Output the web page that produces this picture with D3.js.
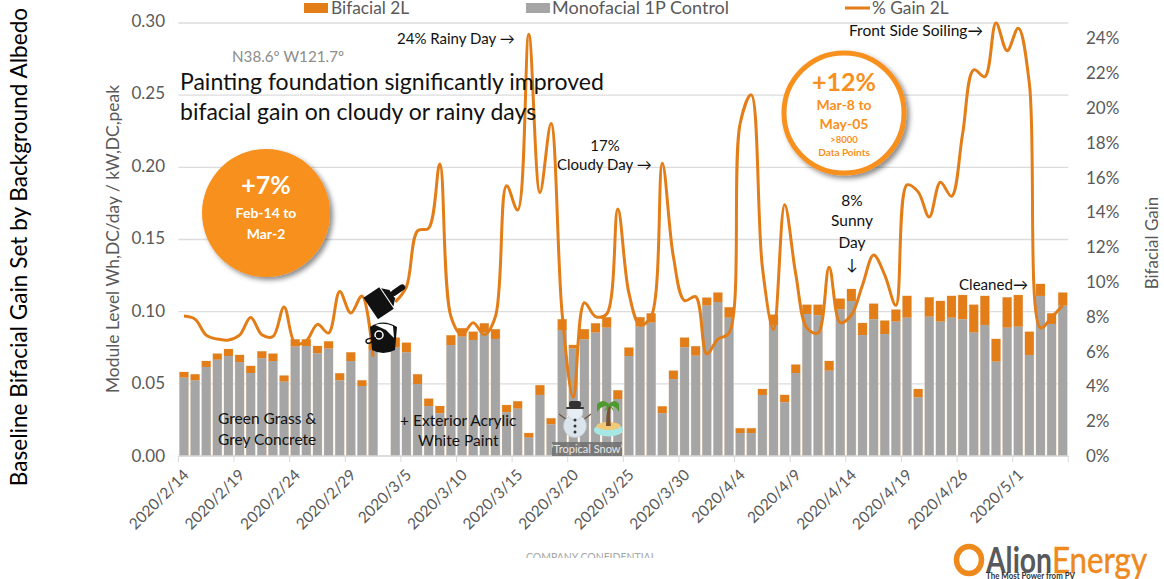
<!DOCTYPE html>
<html lang="en">
<head>
<meta charset="UTF-8">
<title>Baseline Bifacial Gain</title>
<script src="https://d3js.org/d3.v7.min.js"></script>
<style>
    html, body { margin: 0; padding: 0; background: #fff; overflow: hidden; }
    svg { display: block; font-family: Lato, "Open Sans", sans-serif; }
    .axis path { display: none; }
    .axis text { fill: #595959; font-size: 17px; font-family: Lato, sans-serif; }
</style>
</head>
<body>
<div id="chart"></div>
<script>
// one label per day shown, 2 days are missing between 4/19 and 4/26
const dates = [
    "2020/2/14","2020/2/15","2020/2/16","2020/2/17","2020/2/18","2020/2/19","2020/2/20","2020/2/21","2020/2/22","2020/2/23",
    "2020/2/24","2020/2/25","2020/2/26","2020/2/27","2020/2/28","2020/2/29","2020/3/1","2020/3/2","2020/3/3","2020/3/4",
    "2020/3/5","2020/3/6","2020/3/7","2020/3/8","2020/3/9","2020/3/10","2020/3/11","2020/3/12","2020/3/13","2020/3/14",
    "2020/3/15","2020/3/16","2020/3/17","2020/3/18","2020/3/19","2020/3/20","2020/3/21","2020/3/22","2020/3/23","2020/3/24",
    "2020/3/25","2020/3/26","2020/3/27","2020/3/28","2020/3/29","2020/3/30","2020/3/31","2020/4/1","2020/4/2","2020/4/3",
    "2020/4/4","2020/4/5","2020/4/6","2020/4/7","2020/4/8","2020/4/9","2020/4/10","2020/4/11","2020/4/12","2020/4/13",
    "2020/4/14","2020/4/15","2020/4/16","2020/4/17","2020/4/18","2020/4/19","2020/4/22","2020/4/23","2020/4/24","2020/4/25",
    "2020/4/26","2020/4/27","2020/4/28","2020/4/29","2020/4/30","2020/5/1","2020/5/2","2020/5/3","2020/5/4","2020/5/5"
];
const tickDates = ["2020/2/14","2020/2/19","2020/2/24","2020/2/29","2020/3/5","2020/3/10","2020/3/15","2020/3/20",
    "2020/3/25","2020/3/30","2020/4/4","2020/4/9","2020/4/14","2020/4/19","2020/4/26","2020/5/1"];

const bifacial = [
    .0582,.0566,.0658,.0709,.0741,.0700,.0624,.0725,.0709,.0557,
    .0808,.0808,.0762,.0794,.0573,.0718,.0524,.0780,null,.0820,
    .0785,.0566,.0397,.0346,.0836,.0885,.0861,.0919,.0878,.0353,
    .0379,.0159,.0490,.0261,.0947,.0769,.0878,.0919,.0961,.0455,
    .0751,.0961,.0988,.0344,.0591,.0820,.0760,.1097,.1132,.1030,
    .0192,.0192,.0464,.0979,.0423,.0633,.1048,.1048,.0658,.1090,
    .1157,.0921,.1055,.0938,.1014,.1109,.0464,.1099,.1074,.1109,
    .1115,.1048,.1109,.0811,.1099,.1115,.0861,.1192,.0988,.1132
];
const monofacial = [
    .0543,.0524,.0617,.0667,.0693,.0651,.0575,.0677,.0658,.0515,
    .0758,.0762,.0711,.0744,.0524,.0658,.0485,.0734,null,.0751,
    .0718,.0499,.0346,.0296,.0769,.0827,.0804,.0857,.0811,.0303,
    .0328,.0127,.0423,.0219,.0873,.0744,.0808,.0855,.0889,.0395,
    .0693,.0896,.0924,.0296,.0533,.0753,.0695,.1042,.1067,.0958,
    .0159,.0159,.0423,.0908,.0372,.0575,.0984,.0975,.0591,.1016,
    .1074,.0838,.0947,.0845,.0931,.0958,.0406,.0965,.0931,.0958,
    .0947,.0855,.0908,.0654,.0889,.0896,.0700,.1109,.0915,.1042
];
const gain = [
    8.08,7.9,6.98,6.75,6.7,6.98,8.0,7.0,6.9,8.6,
    6.5,6.66,7.6,7.1,9.5,8.25,9.24,5.74,null,8.9,
    9.77,13.0,13.15,16.86,8.05,7.0,7.7,7.0,8.05,15.6,
    14.2,24.35,15.2,19.2,8.2,3.4,8.85,8.05,8.2,14.26,
    9.4,7.56,8.05,16.9,11.5,8.97,9.2,5.9,6.75,7.1,
    19.2,20.85,10.9,7.3,14.5,10.5,7.4,7.1,10.9,7.7,
    8.14,9.87,11.6,10.45,8.7,15.65,15.25,13.8,15.8,15.0,
    18.6,22.3,21.9,25,23.4,24.7,21.5,7.4,8.0,8.7
];
const leftTicks = [0, .05, .10, .15, .20, .25, .30];
const rightTicks = [0,2,4,6,8,10,12,14,16,18,20,22,24];

const orange = "#E27D17", gray = "#A5A5A5", badge = "#F7901E";
const W = 1164, H = 579;
const plot = {left: 178.4, right: 1068.3, top: 23, bottom: 456};

const svg = d3.select("#chart").append("svg").attr("width", W).attr("height", H);

const defs = svg.append("defs");
defs.append("filter").attr("id", "shadow").attr("x", "-20%").attr("y", "-20%").attr("width", "150%").attr("height", "150%")
    .append("feDropShadow").attr("dx", 3).attr("dy", 3).attr("stdDeviation", 2.5)
    .attr("flood-color", "#000").attr("flood-opacity", .45);
defs.append("clipPath").attr("id", "plotClip").append("rect")
    .attr("x", plot.left).attr("y", plot.top - 2).attr("width", plot.right - plot.left).attr("height", plot.bottom - plot.top + 2);
defs.append("clipPath").attr("id", "confClip").append("rect")
    .attr("x", 500).attr("y", 540).attr("width", 200).attr("height", 18);

// scales
const x = d3.scaleBand().domain(dates).range([plot.left, plot.right]).paddingInner(.2).paddingOuter(.1);
const y = d3.scaleLinear().domain([0, .30]).range([plot.bottom, plot.top]);
const y2 = d3.scaleLinear().domain([0, 25]).range([plot.bottom, plot.top]);
// tick labels sit a little higher than the gridlines at the top of the chart
const yLabel = d3.scaleLinear().domain([0, .30]).range([plot.bottom, 21]);
const y2Label = d3.scaleLinear().domain([0, 25]).range([plot.bottom, 21]);
const step = x.step();

// gridlines
svg.append("g").selectAll("line").data(leftTicks).join("line")
    .attr("x1", plot.left).attr("x2", plot.right)
    .attr("y1", d => y(d)).attr("y2", d => y(d))
    .attr("stroke", "#DCDCDC").attr("stroke-width", 1.4);

// bars, only the part of bifacial above the control shows
const idx = d3.range(dates.length).filter(i => bifacial[i] !== null);
const bars = svg.append("g");
bars.selectAll(".edge").data(idx).join("rect").attr("class", "edge")
    .attr("x", i => x(dates[i]) - .4).attr("width", x.bandwidth() + .8)
    .attr("y", i => y(bifacial[i]) - .4).attr("height", i => plot.bottom - y(bifacial[i]) + .4)
    .attr("fill", "#EFDCC6");
bars.selectAll(".bif").data(idx).join("rect").attr("class", "bif")
    .attr("x", i => x(dates[i])).attr("width", x.bandwidth())
    .attr("y", i => y(bifacial[i])).attr("height", i => y(monofacial[i]) - y(bifacial[i]))
    .attr("fill", orange);
bars.selectAll(".mono").data(idx).join("rect").attr("class", "mono")
    .attr("x", i => x(dates[i])).attr("width", x.bandwidth())
    .attr("y", i => y(monofacial[i])).attr("height", i => plot.bottom - y(monofacial[i]))
    .attr("fill", gray);

// x axis, ticks between the bands
const xAxis = svg.append("g").attr("class", "axis").attr("transform", `translate(0,${plot.bottom})`)
    .call(d3.axisBottom(x).tickValues(tickDates).tickSize(6).tickSizeOuter(0));
xAxis.selectAll(".tick line").attr("x1", -step / 2).attr("x2", -step / 2).attr("stroke", "#D9D9D9");
xAxis.selectAll(".tick text")
    .style("font-size", "15.5px")
    .attr("text-anchor", "end").attr("dy", 0).attr("y", 0)
    .attr("transform", "translate(6,20) rotate(-45)");
svg.append("line").attr("x1", plot.left).attr("x2", plot.right).attr("y1", plot.bottom).attr("y2", plot.bottom)
    .attr("stroke", "#D9D9D9").attr("stroke-width", 1.6);
svg.append("line").attr("x1", plot.right).attr("x2", plot.right).attr("y1", plot.bottom).attr("y2", plot.bottom + 6)
    .attr("stroke", "#D9D9D9");

// y axes
svg.append("g").attr("class", "axis").attr("transform", "translate(165,0)")
    .call(d3.axisLeft(yLabel).tickValues(leftTicks).tickSize(0).tickFormat(d3.format(".2f")))
    .selectAll("text").attr("x", 0);
svg.append("g").attr("class", "axis").attr("transform", "translate(1086,0)")
    .call(d3.axisRight(y2Label).tickValues(rightTicks).tickSize(0).tickFormat(d => d + "%"))
    .selectAll("text").attr("x", 0);

// gain line
const line = d3.line()
    .defined(i => gain[i] !== null)
    .x(i => x(dates[i]) + x.bandwidth() / 2)
    .y(i => y2(gain[i]))
    .curve(d3.curveCatmullRom.alpha(0.5));
svg.append("path").datum(d3.range(dates.length))
    .attr("clip-path", "url(#plotClip)")
    .attr("fill", "none").attr("stroke", orange).attr("stroke-width", 3).attr("d", line);

// axis titles
function vtext(cx, cy, str, size, fill) {
    svg.append("text").attr("transform", `translate(${cx},${cy}) rotate(-90)`)
        .attr("text-anchor", "middle").attr("font-size", size).attr("fill", fill).text(str);
}
vtext(27, 247, "Baseline Bifacial Gain Set by Background Albedo", 22.6, "#000");
vtext(119, 239, "Module Level Wh,DC/day / kW,DC,peak", 17.4, "#595959");
vtext(1158, 243, "Bifacial Gain", 17, "#595959");

// legend
const legend = svg.append("g");
legend.append("rect").attr("x", 304).attr("y", 3).attr("width", 24).attr("height", 10).attr("fill", orange);
legend.append("text").attr("x", 331).attr("y", 14).attr("font-size", 17.3).attr("fill", "#595959").text("Bifacial 2L");
legend.append("rect").attr("x", 526).attr("y", 3).attr("width", 24).attr("height", 10).attr("fill", gray);
legend.append("text").attr("x", 552).attr("y", 14).attr("font-size", 18).attr("fill", "#595959").text("Monofacial 1P Control");
legend.append("line").attr("x1", 845).attr("x2", 870).attr("y1", 8).attr("y2", 8).attr("stroke", orange).attr("stroke-width", 3);
legend.append("text").attr("x", 872).attr("y", 14).attr("font-size", 17.3).attr("fill", "#595959").text("% Gain 2L");

// notes
function note(px, py, str, size, anchor, fill, weight) {
    return svg.append("text").attr("x", px).attr("y", py).attr("font-size", size || 15)
        .attr("text-anchor", anchor || "start").attr("fill", fill || "#111")
        .attr("font-weight", weight || 400).text(str);
}
note(232, 62, "N38.6º W121.7º", 15.2, "start", "#8C8C8C");
note(180, 90, "Painting foundation significantly improved", 23);
note(180, 120, "bifacial gain on cloudy or rainy days", 23);
note(397, 44, "24% Rainy Day →");
note(605, 151, "17%", 15, "middle");
note(557, 170, "Cloudy Day →");
note(849, 36, "Front Side Soiling→", 15.5).attr("textLength", 134).attr("lengthAdjust", "spacingAndGlyphs");
note(852, 206, "8%", 15.5, "middle");
note(852, 226, "Sunny", 15.5, "middle");
note(852, 248, "Day", 15.5, "middle");
note(852, 270, "↓", 15.5, "middle");
note(959, 290, "Cleaned→", 15.5).attr("textLength", 69).attr("lengthAdjust", "spacingAndGlyphs");
note(218, 424, "Green Grass &", 15.5);
note(218, 445, "Grey Concrete", 15.5);
note(400, 426, "+ Exterior Acrylic", 15.5);
note(418, 446, "White Paint", 15.5);

// +7% badge
svg.append("circle").attr("cx", 266).attr("cy", 213).attr("r", 64).attr("fill", badge).attr("filter", "url(#shadow)");
note(266, 194, "+7%", 25, "middle", "#fff", 700);
note(266, 218, "Feb-14 to", 14, "middle", "#fff", 700);
note(266, 239, "Mar-2", 14, "middle", "#fff", 700);

// +12% badge
svg.append("circle").attr("cx", 844).attr("cy", 113).attr("r", 60).attr("fill", "#fff")
    .attr("stroke", badge).attr("stroke-width", 5).attr("filter", "url(#shadow)");
[[91, "+12%", 25], [110, "Mar-8 to", 14], [129, "May-05", 14], [143, ">8000", 9.5], [156, "Data Points", 10]].forEach(t => {
    note(844, t[0], t[1], t[2], "middle", badge, 700);
});

// paint brush and bucket
const brush = svg.append("g").attr("transform", "translate(379,303) rotate(-34)");
brush.append("rect").attr("x", -10).attr("y", -13).attr("width", 19).attr("height", 26).attr("fill", "#111");
brush.append("path").attr("d", "M10,-11 L16,-5 L16,5 L10,11 Z").attr("fill", "#111");
brush.append("rect").attr("x", 15).attr("y", -3).attr("width", 16).attr("height", 6).attr("rx", 3).attr("fill", "#111");
const bucket = svg.append("g");
bucket.append("path").attr("d", "M370,327 Q383,318 397,327 L395,350 Q383,356 372,350 Z").attr("fill", "#111");
bucket.append("path").attr("d", "M375,325 Q384,322 393,326 L394,338 L386,330 Z").attr("fill", "#fff");
bucket.append("circle").attr("cx", 379).attr("cy", 335).attr("r", 4).attr("fill", "none").attr("stroke", "#fff").attr("stroke-width", 1.5);
bucket.append("path").attr("d", "M376,338 Q366,338 366,341 Q366,345 372,342").attr("fill", "none").attr("stroke", "#111").attr("stroke-width", 1.5);

// snowman
const snow = svg.append("g");
snow.append("path").attr("d", "M559,414 L568,421 M591,414 L582,421").attr("stroke", "#6B5344").attr("stroke-width", 1.2);
snow.append("circle").attr("cx", 575).attr("cy", 426).attr("r", 11.5).attr("fill", "#DDE5EC").attr("stroke", "#B9C6D2").attr("stroke-width", .6);
snow.append("circle").attr("cx", 575).attr("cy", 412).attr("r", 8).attr("fill", "#E6EDF3").attr("stroke", "#B9C6D2").attr("stroke-width", .6);
snow.append("rect").attr("x", 566).attr("y", 407).attr("width", 18).attr("height", 2).attr("rx", 1).attr("fill", "#333");
snow.append("rect").attr("x", 569).attr("y", 401).attr("width", 12).attr("height", 6.5).attr("rx", 2.5).attr("fill", "#333");
snow.selectAll(".btn").data([420, 426, 432]).join("circle").attr("cx", 575).attr("cy", d => d).attr("r", 1.5).attr("fill", "#333");

// palm island
const palm = svg.append("g");
palm.append("ellipse").attr("cx", 608.5).attr("cy", 430).attr("rx", 14.5).attr("ry", 6.5).attr("fill", "#A8E8E4");
palm.append("ellipse").attr("cx", 608.5).attr("cy", 426).attr("rx", 12).attr("ry", 4).attr("fill", "#F2C977");
palm.append("path").attr("d", "M606,426 Q606,416 608,405 L611,405 Q609,416 611,426 Z").attr("fill", "#7A5230");
palm.append("path").attr("d", "M609,404 Q603,398 597,404 L597,412 Q602,405 607,406 L604,412 Q608,408 610,406 L614,412 Q613,407 611,406 Q616,406 619,412 L619,404 Q615,398 609,404 Z")
    .attr("fill", "#4E9A2E");

// snow caption
svg.append("rect").attr("x", 552).attr("y", 442).attr("width", 70).attr("height", 14).attr("fill", "#6E6E6E").attr("opacity", .85);
note(587, 453, "‘Tropical Snow’", 11, "middle", "#E8E8E8");

// footer
svg.append("text").attr("x", 526).attr("y", 561).attr("clip-path", "url(#confClip)").attr("font-size", 10.5)
    .attr("textLength", 130).attr("lengthAdjust", "spacingAndGlyphs").attr("fill", "#A6A6A6").text("COMPANY CONFIDENTIAL");

// logo
const logo = svg.append("g");
logo.append("ellipse").attr("cx", 969).attr("cy", 560).attr("rx", 12.5).attr("ry", 13.5).attr("fill", "none").attr("stroke", "#EE8A1D").attr("stroke-width", 5.5);
logo.append("text").attr("x", 986).attr("y", 573).attr("font-size", 37).attr("font-weight", 700).attr("fill", "#58595B")
    .attr("textLength", 66).attr("lengthAdjust", "spacingAndGlyphs").text("Alion");
logo.append("text").attr("x", 1052).attr("y", 573).attr("font-size", 37).attr("fill", "#EE8A1D")
    .attr("stroke", "#EE8A1D").attr("stroke-width", .5)
    .attr("textLength", 95).attr("lengthAdjust", "spacingAndGlyphs").text("Energy");
logo.append("text").attr("x", 986).attr("y", 578.5).attr("font-size", 9).attr("font-weight", 700).attr("fill", "#333")
    .attr("textLength", 89).attr("lengthAdjust", "spacingAndGlyphs").text("The Most Power from PV");
</script>
</body>
</html>
